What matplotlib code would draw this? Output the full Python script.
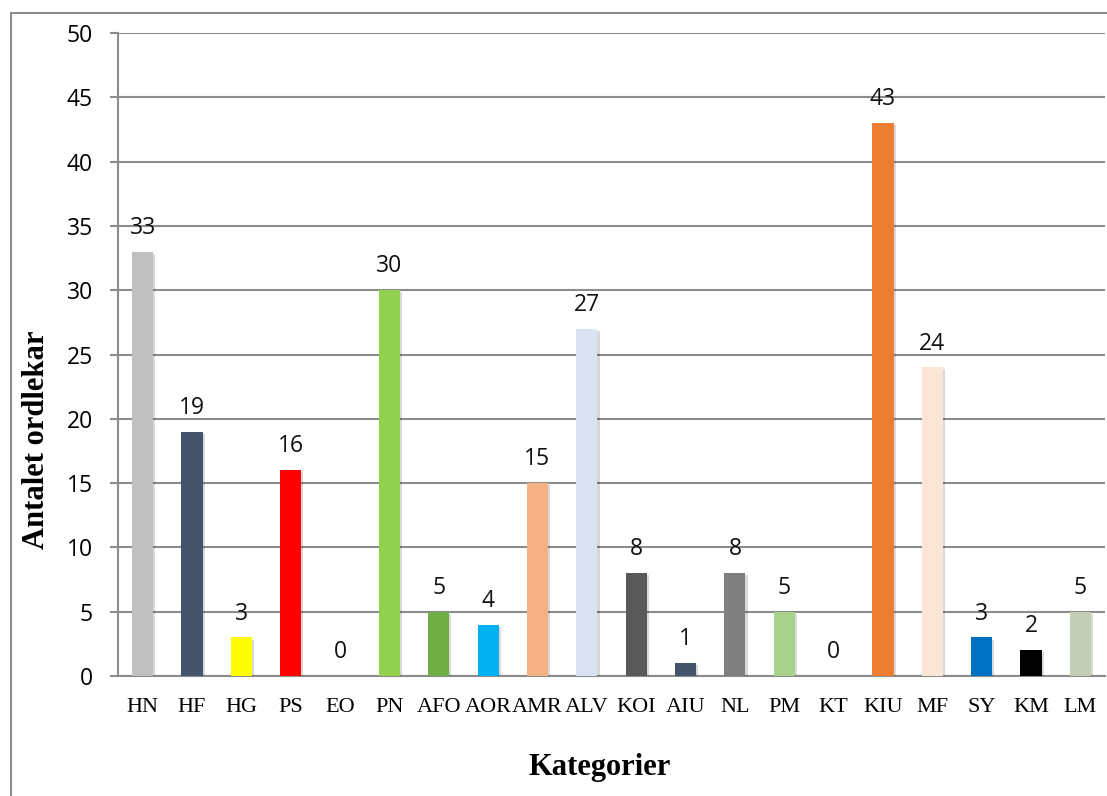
import matplotlib
matplotlib.use("Agg")
import matplotlib.pyplot as plt
from matplotlib import patheffects
from matplotlib.patches import Rectangle

categories = ["HN", "HF", "HG", "PS", "EO", "PN", "AFO", "AOR", "AMR", "ALV",
              "KOI", "AIU", "NL", "PM", "KT", "KIU", "MF", "SY", "KM", "LM"]
values = [33, 19, 3, 16, 0, 30, 5, 4, 15, 27, 8, 1, 8, 5, 0, 43, 24, 3, 2, 5]
colors = ["#BFBFBF", "#44546A", "#FFFF00", "#FF0000", "#FFFFFF", "#92D050",
          "#70AD47", "#00B0F0", "#F4B183", "#DAE3F3", "#595959", "#44546A",
          "#7F7F7F", "#A9D18E", "#FFFFFF", "#ED7D31", "#FBE5D6", "#0070C0",
          "#000000", "#C3CEB7"]
y_ticks = [0, 5, 10, 15, 20, 25, 30, 35, 40, 45, 50]

W, H = 1107, 796
fig = plt.figure(figsize=(W / 100, H / 100), dpi=100)
fig.patch.set_facecolor("white")

# outer chart border
fig.patches.append(Rectangle((11 / W, -0.1), 1.2, 1 - 13 / H + 0.1,
                             transform=fig.transFigure, fill=False,
                             edgecolor="#8C8C8C", linewidth=1.5, zorder=0))

ax = fig.add_axes([118 / W, 1 - 676 / H, (1105 - 118) / W, (676 - 33) / H])

x = list(range(len(categories)))
bars = ax.bar(x, values, width=0.43, color=colors, zorder=3)
for b in bars:
    b.set_path_effects([patheffects.SimplePatchShadow(offset=(1.5, -1.5), alpha=0.15,
                                                      shadow_rgbFace="#000000"),
                        patheffects.Normal()])

for xi, v in zip(x, values):
    ax.annotate(str(v), (xi, v), xytext=(0, 8.5), textcoords="offset points",
                ha="center", va="bottom", fontsize=16.5, family="Open Sans",
                color="#111111", zorder=4)

ax.set_xlim(-0.5, len(categories) - 0.5)
ax.set_ylim(0, 50)
ax.set_yticks(y_ticks)
ax.set_yticklabels([str(t) for t in y_ticks], family="Open Sans", fontsize=16.5)
ax.set_xticks(x)
ax.set_xticklabels(categories, family="Liberation Serif", fontsize=16)

ax.grid(axis="y", color="#8C8C8C", linewidth=1.5, zorder=0)
ax.set_axisbelow(True)
for side in ["top", "right"]:
    ax.spines[side].set_visible(False)
ax.spines["left"].set_color("#8C8C8C")
ax.spines["left"].set_linewidth(1.5)
ax.spines["bottom"].set_color("#8C8C8C")
ax.spines["bottom"].set_linewidth(1.5)
ax.tick_params(axis="y", length=6, width=1.5, color="#8C8C8C", pad=12)
ax.tick_params(axis="x", length=0, pad=16)

fig.text(36 / W, 1 - 440 / H, "Antalet ordlekar", rotation=90, ha="center",
         va="center", family="Liberation Serif", fontweight="bold", fontsize=22)
fig.text(600 / W, 1 - 767 / H, "Kategorier", ha="center", va="center",
         family="Liberation Serif", fontweight="bold", fontsize=22)

fig.savefig("out.png", dpi=100)
